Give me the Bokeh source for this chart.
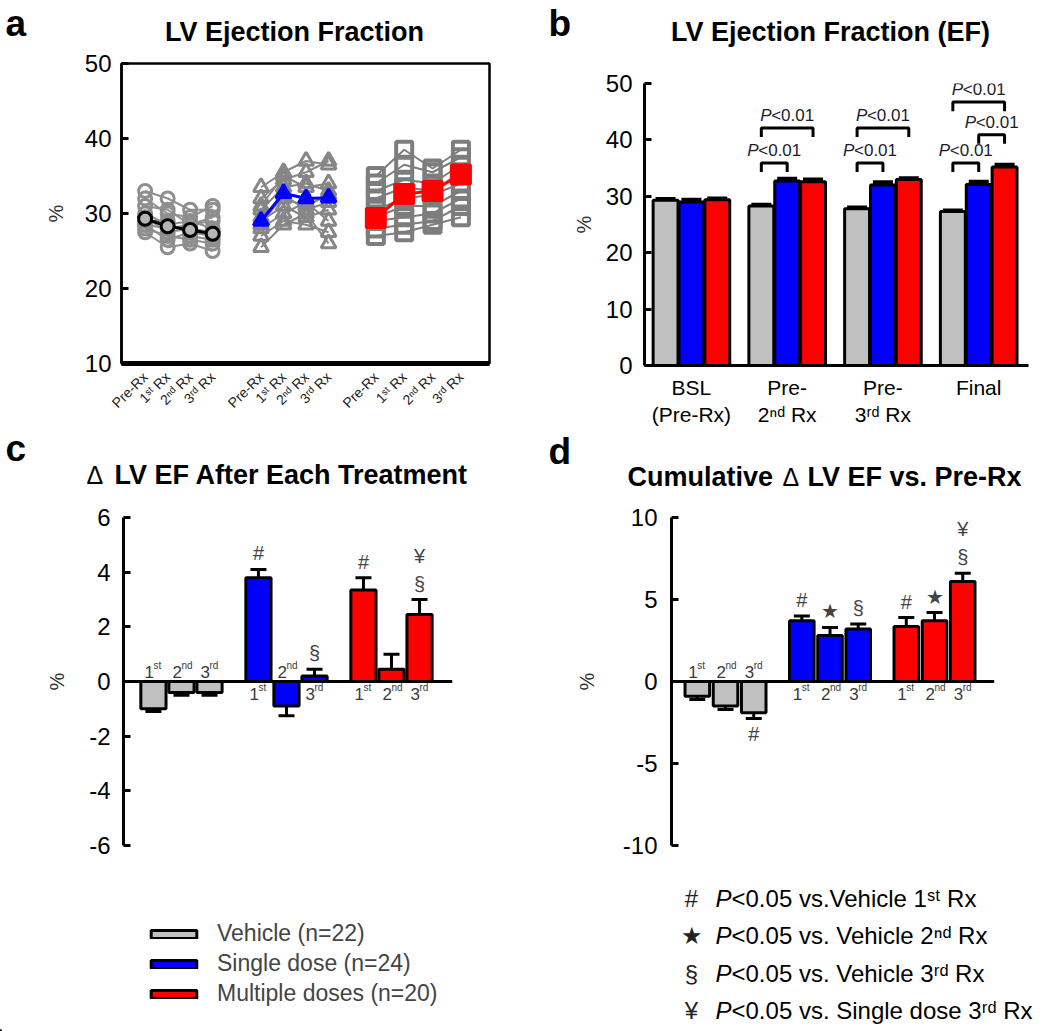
import math
from bokeh.plotting import figure
from bokeh.models import (Range1d, FixedTicker, ColumnDataSource, Whisker, TeeHead,
                          Label, Span, Legend, LegendItem)
from bokeh.layouts import column, row
from bokeh.embed import file_html
from bokeh.resources import INLINE
from bokeh.core.properties import value

FONT = "Liberation Sans"

# ---------------- data ----------------
group_names = ["Vehicle (n=22)", "Single dose (n=24)", "Multiple doses (n=20)"]
group_colors = ["#c0c0c0", "#0000ff", "#ff0000"]

time_labels_a = ["Pre-Rx", "1ˢᵗ Rx", "2ⁿᵈ Rx", "3ʳᵈ Rx"]
time_labels_b = ["BSL\n(Pre-Rx)", "Pre-\n2ⁿᵈ Rx", "Pre-\n3ʳᵈ Rx", "Final"]
rx_numbers = ["1", "2", "3"]
rx_suffixes = ["st", "nd", "rd"]

# LV EF (%) means and SEM at Pre-Rx / Pre-2nd / Pre-3rd / Final
ef_vehicle = [29.3, 28.3, 27.8, 27.3]
ef_single = [29.0, 32.7, 32.0, 32.1]
ef_multiple = [29.4, 32.6, 33.0, 35.2]
ef_vehicle_sem = [0.2, 0.2, 0.2, 0.2]
ef_single_sem = [0.4, 0.4, 0.5, 0.5]
ef_multiple_sem = [0.2, 0.4, 0.2, 0.4]

# individual animals (subset)
indiv_vehicle = [
    [33.0, 32.0, 30.5, 30.5],
    [32.0, 30.0, 29.5, 31.0],
    [31.0, 30.5, 28.5, 29.0],
    [30.0, 28.5, 29.0, 28.0],
    [29.5, 27.5, 28.0, 27.5],
    [29.0, 29.0, 27.0, 26.5],
    [28.5, 26.5, 27.5, 27.0],
    [28.0, 27.0, 26.5, 26.0],
    [27.5, 25.5, 26.0, 25.0],
    [28.5, 28.0, 28.5, 29.5],
]
indiv_single = [
    [33.5, 35.5, 37.0, 36.5],
    [32.0, 34.5, 35.5, 37.0],
    [31.0, 35.0, 33.5, 34.0],
    [30.5, 33.5, 34.0, 33.0],
    [29.5, 32.0, 31.0, 32.5],
    [29.0, 31.0, 29.5, 30.5],
    [28.5, 32.5, 30.5, 31.5],
    [28.0, 30.0, 31.5, 29.0],
    [27.0, 29.0, 28.5, 27.5],
    [25.5, 28.5, 30.0, 26.0],
]
indiv_multiple = [
    [35.0, 38.5, 36.0, 38.5],
    [34.0, 36.5, 35.5, 37.5],
    [33.0, 34.5, 34.0, 36.5],
    [32.0, 33.5, 33.0, 35.5],
    [30.5, 32.0, 32.5, 34.0],
    [29.5, 31.0, 31.0, 33.0],
    [29.0, 29.5, 30.0, 32.0],
    [28.0, 28.5, 29.0, 31.0],
    [27.0, 27.5, 28.5, 29.5],
]

# Panel c: change in EF after each treatment
delta_vehicle = [-1.0, -0.4, -0.4]
delta_single = [3.8, -0.9, 0.2]
delta_multiple = [3.35, 0.45, 2.45]
delta_vehicle_sem = [0.1, 0.1, 0.1]
delta_single_sem = [0.3, 0.35, 0.25]
delta_multiple_sem = [0.45, 0.55, 0.55]
delta_marks = [["", "", ""], ["#", "", "§"], ["#", "", "§¥"]]

# Panel d: cumulative change vs Pre-Rx
cum_vehicle = [-0.9, -1.5, -1.9]
cum_single = [3.7, 2.8, 3.2]
cum_multiple = [3.35, 3.7, 6.1]
cum_vehicle_sem = [0.2, 0.2, 0.35]
cum_single_sem = [0.3, 0.5, 0.3]
cum_multiple_sem = [0.55, 0.5, 0.5]
cum_marks = [["", "", "#"], ["#", "★", "§"], ["#", "★", "§¥"]]

# Panel b comparison brackets
bracket_time = [1, 1, 2, 2, 3, 3, 3]
bracket_from = [0, 0, 0, 0, 0, 1, 0]
bracket_to = [1, 2, 1, 2, 1, 2, 2]
bracket_y = [35.9, 42.1, 35.9, 42.1, 35.9, 40.9, 46.7]
bracket_p = "<0.01"

sig_symbols = ["#", "★", "§", "¥"]
sig_texts = ["<0.05 vs.Vehicle 1ˢᵗ Rx", "<0.05 vs. Vehicle 2ⁿᵈ Rx",
             "<0.05 vs. Vehicle 3ʳᵈ Rx", "<0.05 vs. Single dose 3ʳᵈ Rx"]

# ---------------- page geometry (pixels) ----------------
LEFT_W, RIGHT_W = 520, 530
TOP_BAND = 48
MID_TOP_L, MID_TOP_R = 426, 429
MID_BOT, LEG_TOP, PAGE_H = 500, 870, 1031


# ---------------- helpers ----------------
def make_fig(fig_x, fig_y, width, height, frame, x_range, y_range):
    L, R, T, B = frame
    p = figure(width=width, height=height,
               x_range=Range1d(*x_range), y_range=Range1d(*y_range),
               min_border_left=L - fig_x, min_border_right=fig_x + width - R,
               min_border_top=T - fig_y, min_border_bottom=fig_y + height - B,
               output_backend="svg", toolbar_location=None)
    p.frame_align = False
    p.xgrid.visible = False
    p.ygrid.visible = False
    p.outline_line_color = None
    p.axis.minor_tick_line_color = None
    return p


def band_fig(width, height):
    p = figure(width=width, height=height, x_range=Range1d(0, width),
               y_range=Range1d(0, height), x_axis_type=None, y_axis_type=None,
               min_border=0, output_backend="svg", toolbar_location=None)
    p.frame_align = False
    p.outline_line_color = None
    return p


def band_text(p, origin, X, Y, text, size, style="normal", align="left", color="black",
              baseline="alphabetic"):
    fx, fy = origin
    H = p.height
    p.text(x=[X - fx], y=[H - (Y - fy)], text=[text], text_font=value(FONT),
           text_font_size=value(f"{size}px"), text_font_style=style,
           text_align=align, text_baseline=baseline, text_color=color)


def style_yaxis(p, ticks, label_standoff, tick_standoff, width=3):
    ax = p.yaxis[0]
    ax.ticker = FixedTicker(ticks=ticks)
    ax.major_label_overrides = {t: str(t) for t in ticks}
    ax.major_tick_in = 7
    ax.major_tick_out = 0
    ax.major_tick_line_width = 3
    ax.axis_line_width = width
    ax.major_label_text_font = FONT
    ax.major_label_text_font_size = "24px"
    ax.major_label_text_color = "black"
    ax.major_label_standoff = tick_standoff
    ax.axis_label = "%"
    ax.axis_label_text_font = FONT
    ax.axis_label_text_font_style = "normal"
    ax.axis_label_text_font_size = "20px"
    ax.axis_label_text_color = "#333333"
    ax.axis_label_standoff = label_standoff


# ---------------- title bands ----------------
ta_o, tb_o = (0, 0), (LEFT_W, 0)
tc_o, td_o = (0, MID_TOP_L), (LEFT_W, MID_TOP_R)
ta = band_fig(LEFT_W, TOP_BAND)
tb = band_fig(RIGHT_W, TOP_BAND)
tc = band_fig(LEFT_W, MID_BOT - MID_TOP_L)
td = band_fig(RIGHT_W, MID_BOT - MID_TOP_R)

LETTER_SHIFT, TITLE_SHIFT = 12, 11   # baseline correction of the text renderer
band_text(ta, ta_o, 5, 35 - LETTER_SHIFT, "a", 37, style="bold")
band_text(ta, ta_o, 294, 42 - TITLE_SHIFT, "LV Ejection Fraction", 27, style="bold", align="center")
band_text(tb, tb_o, 548, 35 - LETTER_SHIFT, "b", 37, style="bold")
band_text(tb, tb_o, 830, 42 - TITLE_SHIFT, "LV Ejection Fraction (EF)", 27, style="bold", align="center")
band_text(tc, tc_o, 5, 460 - LETTER_SHIFT, "c", 37, style="bold")
band_text(tc, tc_o, 86, 485 - TITLE_SHIFT, "Δ", 25)
band_text(tc, tc_o, 114, 485 - TITLE_SHIFT, "LV EF After Each Treatment", 27, style="bold")
band_text(td, td_o, 548, 463 - LETTER_SHIFT, "d", 37, style="bold")
band_text(td, td_o, 627, 487 - TITLE_SHIFT, "Cumulative", 27, style="bold")
band_text(td, td_o, 782, 487 - TITLE_SHIFT, "Δ", 25)
band_text(td, td_o, 807, 487 - TITLE_SHIFT, "LV EF vs. Pre-Rx", 27, style="bold")

# ---------------- panel a ----------------
pa = make_fig(0, TOP_BAND, LEFT_W, MID_TOP_L - TOP_BAND, (121, 489, 63, 363), (0, 16.35), (10, 50))
a_starts = [1.05, 6.2, 11.3]
a_steps = [1.0, 1.0, 1.26]
a_x = [[s + k * st for k in range(4)] for s, st in zip(a_starts, a_steps)]
indiv_sets = [indiv_vehicle, indiv_single, indiv_multiple]
mean_sets = [ef_vehicle, ef_single, ef_multiple]
sem_sets = [ef_vehicle_sem, ef_single_sem, ef_multiple_sem]
a_markers = ["circle", "triangle", "square"]
a_indiv_sizes = [13, 15, 16]
a_indiv_colors = ["#8e8e8e", "#868686", "#7d7d7d"]
a_indiv_width = [3, 3, 4]
a_mean_sizes = [13, 15, 19]
a_mean_line = ["black", "#0000ff", "#ff0000"]
a_mean_fill = ["#b5b5b5", "#0000ff", "#ff0000"]

for g in range(3):
    xs = a_x[g]
    for series in indiv_sets[g]:
        pa.line(xs, series, line_color=a_indiv_colors[g], line_width=2)
        pa.scatter(xs, series, marker=a_markers[g], size=a_indiv_sizes[g],
                   fill_color=None, line_color=a_indiv_colors[g], line_width=a_indiv_width[g])
for g in range(3):
    xs = a_x[g]
    m = mean_sets[g]
    s = sem_sets[g]
    pa.line(xs, m, line_color=a_mean_line[g], line_width=3)
    src = ColumnDataSource(dict(x=xs, lo=[v - e for v, e in zip(m, s)],
                                hi=[v + e for v, e in zip(m, s)]))
    pa.add_layout(Whisker(source=src, base="x", lower="lo", upper="hi",
                          line_color=a_mean_line[g], line_width=2,
                          upper_head=TeeHead(size=10, line_color=a_mean_line[g], line_width=2),
                          lower_head=TeeHead(size=10, line_color=a_mean_line[g], line_width=2)))
    pa.scatter(xs, m, marker=a_markers[g], size=a_mean_sizes[g],
               fill_color=a_mean_fill[g], line_color=a_mean_line[g], line_width=3)

all_a_x = [x for xs in a_x for x in xs]
pa.xaxis.ticker = FixedTicker(ticks=all_a_x)
pa.xaxis.major_label_overrides = {x: time_labels_a[i % 4] for i, x in enumerate(all_a_x)}
pa.xaxis.major_label_orientation = math.pi / 4
pa.xaxis.major_tick_line_color = None
pa.xaxis.axis_line_width = 5
pa.xaxis.major_label_text_font = FONT
pa.xaxis.major_label_text_font_size = "14px"
pa.xaxis.major_label_text_color = "#222222"
pa.xaxis.major_label_standoff = 5
style_yaxis(pa, [10, 20, 30, 40, 50], 15, 10, width=2.5)
pa.outline_line_color = "black"
pa.outline_line_width = 2.5

# ---------------- panel b ----------------
pb = make_fig(LEFT_W, TOP_BAND, RIGHT_W, MID_TOP_R - TOP_BAND, (644, 1028, 83, 373),
              (-0.49, 3.52), (0, 50))
b_offsets = [-0.27, 0.0, 0.27]
for g in range(3):
    xs = [t + b_offsets[g] for t in range(4)]
    m = mean_sets[g]
    s = sem_sets[g]
    src = ColumnDataSource(dict(x=xs, lo=m, hi=[v + e for v, e in zip(m, s)]))
    pb.add_layout(Whisker(source=src, base="x", lower="lo", upper="hi",
                          line_color="black", line_width=3,
                          upper_head=TeeHead(size=20, line_color="black", line_width=4),
                          lower_head=None))
    pb.vbar(x=xs, top=m, bottom=0, width=0.26, fill_color=group_colors[g],
            line_color="black", line_width=3)

bx, by = [], []
for k in range(len(bracket_y)):
    t = bracket_time[k]
    x1 = t + b_offsets[bracket_from[k]]
    x2 = t + b_offsets[bracket_to[k]]
    y = bracket_y[k]
    leg = 1.6
    bx.append([x1, x1, x2, x2])
    by.append([y - leg, y, y, y - leg])
    cx = (x1 + x2) / 2
    pb.add_layout(Label(x=cx, y=y, x_offset=-27, y_offset=3, text="P", text_font=FONT,
                        text_font_size="17px", text_font_style="italic",
                        text_align="left", text_baseline="bottom", text_color="#1c1c2c"))
    pb.add_layout(Label(x=cx, y=y, x_offset=-16, y_offset=3, text=bracket_p, text_font=FONT,
                        text_font_size="17px", text_align="left", text_baseline="bottom",
                        text_color="#1c1c2c"))
pb.multi_line(bx, by, line_color="black", line_width=3)

pb.xaxis.ticker = FixedTicker(ticks=[0, 1, 2, 3])
pb.xaxis.major_label_overrides = {i: time_labels_b[i] for i in range(4)}
pb.xaxis.major_tick_line_color = None
pb.xaxis.axis_line_width = 3
pb.xaxis.major_label_text_font = FONT
pb.xaxis.major_label_text_font_size = "21px"
pb.xaxis.major_label_text_color = "black"
pb.xaxis.major_label_standoff = 4
pb.xaxis.major_label_text_line_height = 1.2
style_yaxis(pb, [0, 10, 20, 30, 40, 50], 8, 12)


# ---------------- panels c and d ----------------
def bar_panel(p, vals, sems, marks, offsets, width):
    for g in range(3):
        xs = [g + o for o in offsets]
        v = vals[g]
        s = sems[g]
        sign = [1 if a >= 0 else -1 for a in v]
        src = ColumnDataSource(dict(x=xs, lo=v, hi=[a + sg * e for a, sg, e in zip(v, sign, s)]))
        p.add_layout(Whisker(source=src, base="x", lower="lo", upper="hi",
                             line_color="black", line_width=3,
                             upper_head=TeeHead(size=16, line_color="black", line_width=3),
                             lower_head=None))
        p.vbar(x=xs, top=v, bottom=0, width=width, fill_color=group_colors[g],
               line_color="black", line_width=3)
        for i in range(3):
            # ordinal label on the opposite side of the zero line
            if v[i] >= 0 and g > 0:
                y_off, base = -6, "top"
            else:
                y_off, base = 4, "bottom"
            p.add_layout(Label(x=xs[i], y=0, x_offset=-9, y_offset=y_off, text=rx_numbers[i],
                               text_font=FONT, text_font_size="17px", text_align="left",
                               text_baseline=base, text_color="#3a3a3a"))
            p.add_layout(Label(x=xs[i], y=0, x_offset=0, y_offset=y_off + (6 if base == "top" else 7),
                               text=rx_suffixes[i], text_font=FONT, text_font_size="10px",
                               text_align="left", text_baseline=base, text_color="#3a3a3a"))
            for k, ch in enumerate(marks[g][i]):
                tip = v[i] + sign[i] * s[i]
                p.add_layout(Label(x=xs[i], y=tip, y_offset=sign[i] * (5 + 28 * k), text=ch,
                                   text_font=FONT, text_font_size="20px", text_align="center",
                                   text_baseline="bottom" if sign[i] > 0 else "top",
                                   text_color="#444444"))
    p.xaxis.visible = False
    p.add_layout(Span(location=0, dimension="width", line_color="black", line_width=3))


pc = make_fig(0, MID_BOT, LEFT_W, LEG_TOP - MID_BOT, (123, 452, 517, 845), (-0.552, 2.581), (-6, 6))
bar_panel(pc, [delta_vehicle, delta_single, delta_multiple],
          [delta_vehicle_sem, delta_single_sem, delta_multiple_sem], delta_marks,
          [-0.267, 0.0, 0.267], 0.24)
style_yaxis(pc, [-6, -4, -2, 0, 2, 4, 6], 18, 13)

pd = make_fig(LEFT_W, MID_BOT, RIGHT_W, LEG_TOP - MID_BOT, (671, 994, 517, 845),
              (-0.517, 2.574), (-10, 10))
bar_panel(pd, [cum_vehicle, cum_single, cum_multiple],
          [cum_vehicle_sem, cum_single_sem, cum_multiple_sem], cum_marks,
          [-0.27, 0.0, 0.27], 0.235)
style_yaxis(pd, [-10, -5, 0, 5, 10], 22, 14)

# ---------------- legends ----------------
LEG_H = PAGE_H - LEG_TOP
pe = band_fig(LEFT_W, LEG_H)
items = []
for g in range(3):
    r = pe.vbar(x=[-1000], top=[1], bottom=0, width=1, fill_color=group_colors[g],
                line_color="black", line_width=3)
    items.append(LegendItem(label=group_names[g], renderers=[r]))
leg = Legend(items=items, location=(145, 24), glyph_width=57, glyph_height=10,
             label_standoff=15, label_text_font=FONT, label_text_font_size="23px",
             spacing=3, padding=0, margin=0, border_line_color=None,
             background_fill_alpha=0)
pe.add_layout(leg)

pf_o = (LEFT_W, LEG_TOP)
pf = band_fig(RIGHT_W, LEG_H)
row_pitch = 37.3
first_row_y = 898
for i in range(len(sig_symbols)):
    Y = first_row_y + i * row_pitch
    band_text(pf, pf_o, 691, Y, sig_symbols[i], 24, align="center", baseline="middle",
              color="#222222")
    band_text(pf, pf_o, 715, Y, "P", 24, style="italic", baseline="middle")
    band_text(pf, pf_o, 731, Y, sig_texts[i], 24, baseline="middle")

layout = row(column(ta, pa, tc, pc, pe), column(tb, pb, td, pd, pf))
open("out.html", "w").write(file_html(layout, INLINE))
